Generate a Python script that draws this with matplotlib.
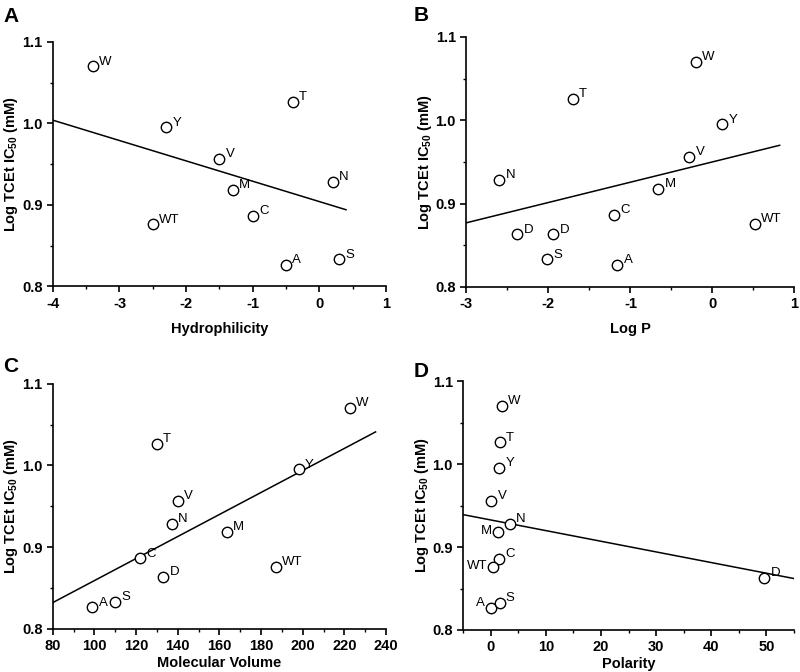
import numpy as np
import matplotlib
matplotlib.use('Agg')
import matplotlib.pyplot as plt
from matplotlib.ticker import MultipleLocator, FormatStrFormatter

plt.rcParams['font.family'] = ['Liberation Sans', 'DejaVu Sans']
plt.rcParams['axes.unicode_minus'] = False
plt.rcParams['mathtext.fontset'] = 'custom'
plt.rcParams['mathtext.bf'] = 'Liberation Sans:bold'
plt.rcParams['mathtext.rm'] = 'Liberation Sans'

# log TCEt IC50 (mM) per mutant
log_ic50 = {'W': 1.070, 'T': 1.026, 'Y': 0.995, 'V': 0.956, 'N': 0.928, 'M': 0.918,
            'C': 0.886, 'WT': 0.876, 'D': 0.863, 'S': 0.833, 'A': 0.826}

# panel A: hydrophilicity
hyd_labels = ['W', 'Y', 'V', 'M', 'C', 'WT', 'T', 'N', 'A', 'S']
hyd_x = [-3.4, -2.3, -1.5, -1.3, -1.0, -2.5, -0.4, 0.2, -0.5, 0.3]
hyd_fit_x = [-4.0, 0.4]
hyd_fit_y = [1.004, 0.894]

# panel B: log P (two D entries in the original)
logp_labels = ['N', 'D', 'D', 'S', 'T', 'C', 'A', 'M', 'V', 'W', 'Y', 'WT']
logp_x = [-2.6, -2.38, -1.94, -2.02, -1.7, -1.2, -1.16, -0.66, -0.28, -0.2, 0.12, 0.52]
logp_fit_x = [-3.0, 0.82]
logp_fit_y = [0.877, 0.970]

# panel C: molecular volume
vol_labels = ['A', 'S', 'C', 'D', 'T', 'N', 'V', 'M', 'WT', 'Y', 'W']
vol_x = [99, 110, 122, 133, 130, 137, 140, 163.5, 187, 198, 222.5]
vol_fit_x = [80, 235]
vol_fit_y = [0.832, 1.041]

# panel D: polarity
pol_labels = ['W', 'T', 'Y', 'V', 'N', 'M', 'C', 'WT', 'A', 'S', 'D']
pol_x = [2.0, 1.6, 1.5, 0.1, 3.4, 1.3, 1.5, 0.4, 0.0, 1.6, 49.6]
pol_fit_x = [-5, 55]
pol_fit_y = [0.939, 0.862]
pol_left = {'M', 'WT', 'A'}

fig = plt.figure(figsize=(8, 6.72), dpi=100)

panels = [
    ('A', [0.066, 0.574, 0.4165, 0.3635], hyd_labels, hyd_x, hyd_fit_x, hyd_fit_y,
     'Hydrophilicity', (-4, 1), 1, 0.5, set(), 8),
    ('B', [0.583, 0.573, 0.410, 0.372], logp_labels, logp_x, logp_fit_x, logp_fit_y,
     'Log P', (-3, 1), 1, 0.5, set(), 8),
    ('C', [0.066, 0.0644, 0.4165, 0.3646], vol_labels, vol_x, vol_fit_x, vol_fit_y,
     'Molecular Volume', (80, 240), 20, 10, set(), 2),
    ('D', [0.579, 0.0625, 0.4135, 0.3705], pol_labels, pol_x, pol_fit_x, pol_fit_y,
     'Polarity', (-5, 55), 10, 5, pol_left, 2),
]

for letter, rect, labels, xs, fx, fy, xlabel, xlim, major, minor, left, lpad in panels:
    ax = fig.add_axes(rect)
    ys = [log_ic50[k] for k in labels]
    ax.plot(fx, fy, color='black', lw=1.1, zorder=2)
    ax.plot(xs, ys, 'o', ms=7.5, mfc='white', mec='black', mew=1.0, zorder=3)
    for lab, x, y in zip(labels, xs, ys):
        if lab in left:
            dy = 4 if lab == 'A' else 1
            ax.annotate(lab, (x, y), xytext=(-4, dy), textcoords='offset points',
                        ha='right', va='center', fontsize=9.5)
        else:
            ax.annotate(lab, (x, y), xytext=(4.5, 3.5), textcoords='offset points',
                        ha='left', va='center', fontsize=9.5)
    ax.set_xlim(*xlim)
    ax.set_ylim(0.8, 1.1)
    ax.xaxis.set_major_locator(MultipleLocator(major))
    ax.xaxis.set_minor_locator(MultipleLocator(minor))
    ax.yaxis.set_major_locator(MultipleLocator(0.1))
    ax.yaxis.set_minor_locator(MultipleLocator(0.05))
    ax.yaxis.set_major_formatter(FormatStrFormatter('%.1f'))
    ax.spines['top'].set_visible(False)
    ax.spines['right'].set_visible(False)
    for s in ('left', 'bottom'):
        ax.spines[s].set_linewidth(1.2)
    ax.tick_params(which='major', direction='out', length=4, width=1.2, labelsize=10.5)
    ax.tick_params(which='minor', direction='out', length=2.5, width=1.0)
    for t in ax.get_xticklabels() + ax.get_yticklabels():
        t.set_fontweight('bold')
    ax.set_xlabel(xlabel, fontsize=10.5, fontweight='bold', labelpad=lpad)
    ax.set_ylabel(r'Log TCEt IC$_{\mathbf{50}}$ (mM)', fontsize=10.5, fontweight='bold',
                  labelpad=1)
    ax.patch.set_visible(False)

fig.text(0.004, 0.975, 'A', fontsize=15, fontweight='bold', va='center')
fig.text(0.517, 0.977, 'B', fontsize=15, fontweight='bold', va='center')
fig.text(0.004, 0.455, 'C', fontsize=15, fontweight='bold', va='center')
fig.text(0.517, 0.447, 'D', fontsize=15, fontweight='bold', va='center')

fig.savefig('out.png', dpi=100)
